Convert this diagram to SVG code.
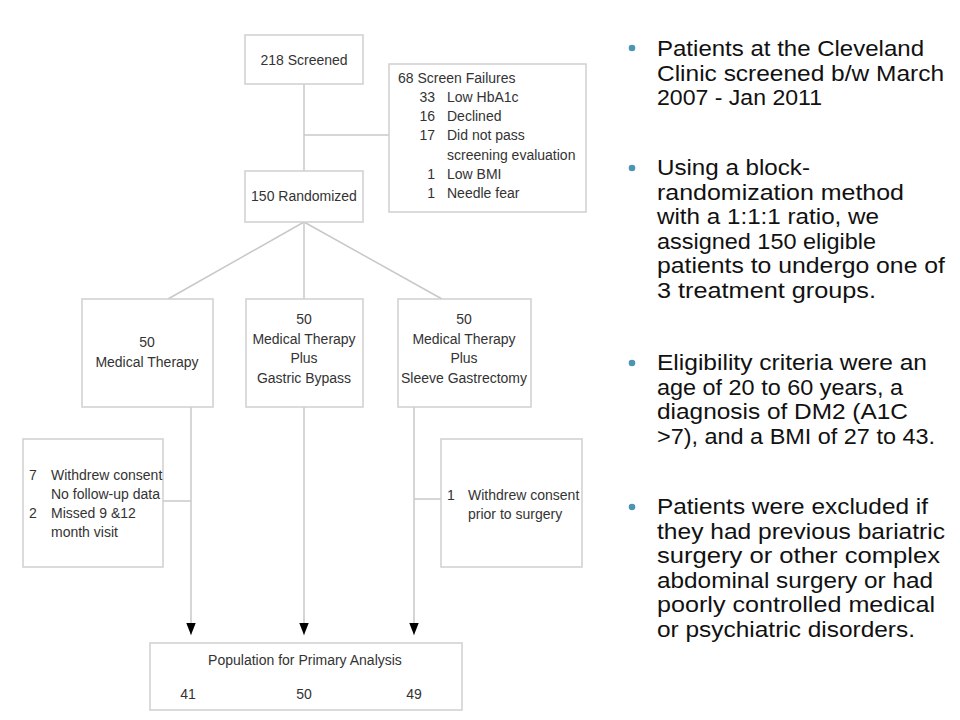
<svg xmlns="http://www.w3.org/2000/svg" width="960" height="720" viewBox="0 0 960 720">
<defs>
<style>
.box{fill:#fff;stroke:#cfcfcf;stroke-width:1.5}
.ln{fill:none;stroke:#c8c8c8;stroke-width:1.5}
.t{font-family:"Liberation Sans",Arial,sans-serif;font-size:14px;fill:#333}
.c{text-anchor:middle}
.r{text-anchor:end}
.b{font-family:"Liberation Sans",Arial,sans-serif;font-size:21.5px;fill:#111}
.dot{fill:#4b94b4}
</style>
<marker id="ah" markerUnits="userSpaceOnUse" markerWidth="12" markerHeight="14" refX="14" refY="5.5" orient="auto" viewBox="0 0 14 11">
<path d="M0,0 L14,5.5 L0,11 z" fill="#000"/>
</marker>
</defs>
<rect width="960" height="720" fill="#fff"/>

<g id="connectors">
<line class="ln" x1="304" y1="84" x2="304" y2="171"/>
<line class="ln" x1="304" y1="135" x2="389" y2="135"/>
<line class="ln" x1="304" y1="222" x2="168" y2="299"/>
<line class="ln" x1="304" y1="222" x2="304" y2="299"/>
<line class="ln" x1="304" y1="222" x2="442" y2="299"/>
<line class="ln" x1="191" y1="407" x2="191" y2="635" marker-end="url(#ah)"/>
<line class="ln" x1="304" y1="407" x2="304" y2="635" marker-end="url(#ah)"/>
<line class="ln" x1="414" y1="407" x2="414" y2="635" marker-end="url(#ah)"/>
<line class="ln" x1="163" y1="501" x2="191" y2="501"/>
<line class="ln" x1="414" y1="499" x2="441" y2="499"/>
</g>

<g id="screened">
<rect class="box" x="245" y="35" width="118" height="49"/>
<text class="t c" x="304" y="65">218 Screened</text>
</g>

<g id="screen-failures">
<rect class="box" x="389" y="64" width="197" height="148"/>
<text class="t" x="398" y="83">68 Screen Failures</text>
<text class="t r" x="435" y="102">33</text><text class="t" x="447" y="102">Low HbA1c</text>
<text class="t r" x="435" y="121">16</text><text class="t" x="447" y="121">Declined</text>
<text class="t r" x="435" y="140">17</text><text class="t" x="447" y="140">Did not pass</text>
<text class="t" x="447" y="160">screening evaluation</text>
<text class="t r" x="435" y="179">1</text><text class="t" x="447" y="179">Low BMI</text>
<text class="t r" x="435" y="198">1</text><text class="t" x="447" y="198">Needle fear</text>
</g>

<g id="randomized">
<rect class="box" x="245" y="171" width="118" height="51"/>
<text class="t c" x="304" y="201">150 Randomized</text>
</g>

<g id="medical">
<rect class="box" x="82" y="299" width="131" height="108"/>
<text class="t c" x="147" y="347">50</text>
<text class="t c" x="147" y="367">Medical Therapy</text>
</g>

<g id="bypass">
<rect class="box" x="246" y="299" width="117" height="108"/>
<text class="t c" x="304" y="324">50</text>
<text class="t c" x="304" y="344">Medical Therapy</text>
<text class="t c" x="304" y="363">Plus</text>
<text class="t c" x="304" y="383">Gastric Bypass</text>
</g>

<g id="sleeve">
<rect class="box" x="398" y="299" width="133" height="108"/>
<text class="t c" x="464" y="324">50</text>
<text class="t c" x="464" y="344">Medical Therapy</text>
<text class="t c" x="464" y="363">Plus</text>
<text class="t c" x="464" y="383">Sleeve Gastrectomy</text>
</g>

<g id="withdrew-left">
<rect class="box" x="23" y="439" width="140" height="128"/>
<text class="t" x="29" y="480">7</text><text class="t" x="51" y="480">Withdrew consent</text>
<text class="t" x="51" y="499">No follow-up data</text>
<text class="t" x="29" y="518">2</text><text class="t" x="51" y="518">Missed 9 &amp;12</text>
<text class="t" x="51" y="537">month visit</text>
</g>

<g id="withdrew-right">
<rect class="box" x="441" y="439" width="141" height="128"/>
<text class="t" x="447" y="500">1</text><text class="t" x="468" y="500">Withdrew consent</text>
<text class="t" x="468" y="519">prior to surgery</text>
</g>

<g id="population">
<rect class="box" x="150" y="643" width="312" height="67"/>
<text class="t c" x="305" y="665">Population for Primary Analysis</text>
<text class="t c" x="188" y="699">41</text>
<text class="t c" x="304" y="699">50</text>
<text class="t c" x="414" y="699">49</text>
</g>

<g id="bullets">
<circle class="dot" cx="632" cy="48" r="3.3"/>
<text class="b" x="657" y="56" textLength="267" lengthAdjust="spacingAndGlyphs">Patients at the Cleveland</text>
<text class="b" x="657" y="80.5" textLength="287" lengthAdjust="spacingAndGlyphs">Clinic screened b/w March</text>
<text class="b" x="657" y="105" textLength="165" lengthAdjust="spacingAndGlyphs">2007 - Jan 2011</text>

<circle class="dot" cx="632" cy="168" r="3.3"/>
<text class="b" x="657" y="175" textLength="153" lengthAdjust="spacingAndGlyphs">Using a block-</text>
<text class="b" x="657" y="199.5" textLength="247" lengthAdjust="spacingAndGlyphs">randomization method</text>
<text class="b" x="657" y="224" textLength="222" lengthAdjust="spacingAndGlyphs">with a 1:1:1 ratio, we</text>
<text class="b" x="657" y="248.5" textLength="219" lengthAdjust="spacingAndGlyphs">assigned 150 eligible</text>
<text class="b" x="657" y="273" textLength="288" lengthAdjust="spacingAndGlyphs">patients to undergo one of</text>
<text class="b" x="657" y="297.5" textLength="219" lengthAdjust="spacingAndGlyphs">3 treatment groups.</text>

<circle class="dot" cx="632" cy="363" r="3.3"/>
<text class="b" x="657" y="370" textLength="270" lengthAdjust="spacingAndGlyphs">Eligibility criteria were an</text>
<text class="b" x="657" y="394.5" textLength="246" lengthAdjust="spacingAndGlyphs">age of 20 to 60 years, a</text>
<text class="b" x="657" y="419" textLength="251" lengthAdjust="spacingAndGlyphs">diagnosis of DM2 (A1C</text>
<text class="b" x="657" y="443.5" textLength="278" lengthAdjust="spacingAndGlyphs">&gt;7), and a BMI of 27 to 43.</text>

<circle class="dot" cx="632" cy="507" r="3.3"/>
<text class="b" x="657" y="514" textLength="271" lengthAdjust="spacingAndGlyphs">Patients were excluded if</text>
<text class="b" x="657" y="538.5" textLength="288" lengthAdjust="spacingAndGlyphs">they had previous bariatric</text>
<text class="b" x="657" y="563" textLength="283" lengthAdjust="spacingAndGlyphs">surgery or other complex</text>
<text class="b" x="657" y="587.5" textLength="276" lengthAdjust="spacingAndGlyphs">abdominal surgery or had</text>
<text class="b" x="657" y="612" textLength="278" lengthAdjust="spacingAndGlyphs">poorly controlled medical</text>
<text class="b" x="657" y="636.5" textLength="258" lengthAdjust="spacingAndGlyphs">or psychiatric disorders.</text>
</g>
</svg>
